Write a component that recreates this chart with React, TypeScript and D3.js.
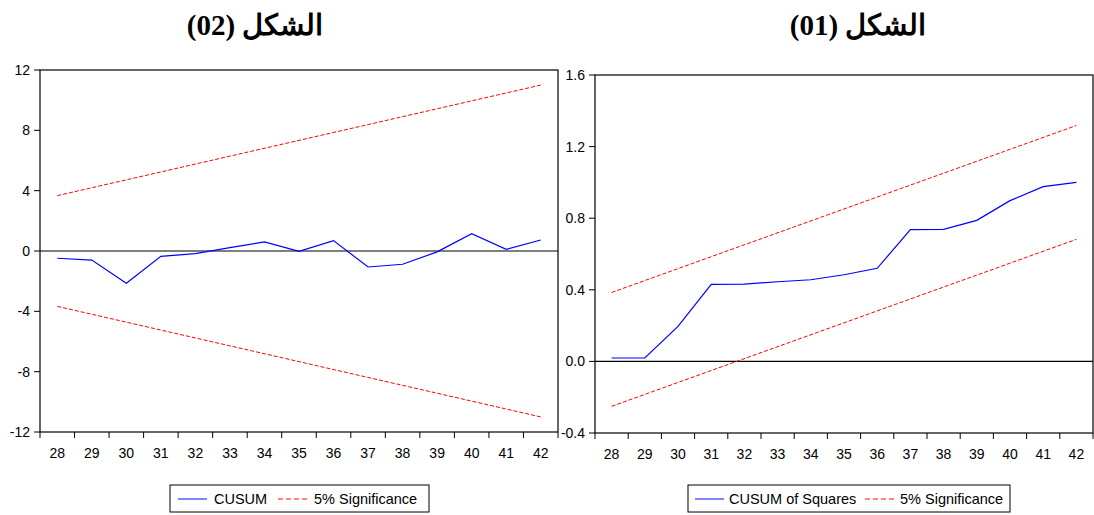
import React from "react";
import * as d3 from "d3";

// periods on the x axis (shared by both panels)
const periods = ["28", "29", "30", "31", "32", "33", "34", "35", "36", "37", "38", "39", "40", "41", "42"];

// figure 02: CUSUM
const cusum = [-0.48, -0.6, -2.14, -0.35, -0.17, 0.22, 0.6, -0.02, 0.69, -1.06, -0.88, -0.06, 1.15, 0.11, 0.73];
const cusumUpper = [3.67, 11.0]; // first and last period
const cusumLower = [-3.67, -11.0];
const cusumTicks = [-12, -8, -4, 0, 4, 8, 12];

// figure 01: CUSUM of squares
const cusumSq = [0.019, 0.019, 0.196, 0.43, 0.432, 0.445, 0.456, 0.484, 0.52, 0.736, 0.738, 0.788, 0.898, 0.976, 1.0];
const cusumSqUpper = [0.385, 1.318];
const cusumSqLower = [-0.251, 0.682];
const cusumSqTicks = [-0.4, 0.0, 0.4, 0.8, 1.2, 1.6];

const sans = "'Liberation Sans', Arial, sans-serif";
const serif = "'Liberation Serif', 'Times New Roman', serif";

// eviews prints a plain hyphen, not d3's unicode minus
const hyphen = (f: (v: number) => string) => (v: number) => f(v).replace("\u2212", "-");

type PanelProps = {
  title: string;
  titleX: number;
  x0: number;
  x1: number;
  y0: number;
  y1: number;
  ticks: number[];
  fmt: (v: number) => string;
  values: number[];
  upper: number[];
  lower: number[];
  legendName: string;
  legend: { x: number; w: number; line1: number; text1: number; dash: number; text2: number };
};

function Panel(p: PanelProps) {
  const x = d3.scaleBand<string>().domain(periods).range([p.x0, p.x1]);
  const bw = x.bandwidth();
  const cx = (k: string) => (x(k) as number) + bw / 2;
  const y = d3.scaleLinear().domain(d3.extent(p.ticks) as [number, number]).range([p.y1, p.y0]);

  const line = d3.line<number>().x((_, i) => cx(periods[i])).y((d) => y(d));
  const first = periods[0];
  const last = periods[periods.length - 1];
  const bound = (b: number[]) =>
    d3.line<[string, number]>().x((d) => cx(d[0])).y((d) => y(d[1]))([[first, b[0]], [last, b[1]]]) || "";

  const ly = 499;
  return (
    <g>
      <text
        x={p.titleX}
        y={35}
        textAnchor="middle"
        direction="rtl"
        fontFamily={serif}
        fontWeight="bold"
        fontSize={29}
      >
        {p.title}
      </text>

      <rect x={p.x0} y={p.y0} width={p.x1 - p.x0} height={p.y1 - p.y0} fill="none" stroke="#000" strokeWidth={1.2} />
      <line x1={p.x0} x2={p.x1} y1={y(0)} y2={y(0)} stroke="#000" strokeWidth={1.2} />

      {p.ticks.map((t) => (
        <g key={t}>
          <line x1={p.x0 - 6} x2={p.x0} y1={y(t)} y2={y(t)} stroke="#000" />
          <text x={p.x0 - 10} y={y(t)} dy="0.35em" textAnchor="end" fontFamily={sans} fontSize={14}>
            {p.fmt(t)}
          </text>
        </g>
      ))}

      {periods.map((k) => (
        <g key={k}>
          <line x1={x(k)} x2={x(k)} y1={p.y1} y2={p.y1 + 6} stroke="#000" />
          <text x={cx(k)} y={p.y1 + 26} textAnchor="middle" fontFamily={sans} fontSize={14}>
            {k}
          </text>
        </g>
      ))}
      <line x1={p.x1} x2={p.x1} y1={p.y1} y2={p.y1 + 6} stroke="#000" />

      <path d={bound(p.upper)} fill="none" stroke="#ff0000" strokeWidth={1} strokeDasharray="4,2" />
      <path d={bound(p.lower)} fill="none" stroke="#ff0000" strokeWidth={1} strokeDasharray="4,2" />
      <path d={line(p.values) || ""} fill="none" stroke="#0000ff" strokeWidth={1.2} />

      <rect x={p.legend.x} y={485} width={p.legend.w} height={27} fill="#fff" stroke="#000" />
      <line x1={p.legend.line1} x2={p.legend.line1 + 29} y1={ly} y2={ly} stroke="#5a5aff" strokeWidth={1.5} />
      <text x={p.legend.text1} y={504} fontFamily={sans} fontSize={14.5}>
        {p.legendName}
      </text>
      <line
        x1={p.legend.dash}
        x2={p.legend.dash + 29}
        y1={ly}
        y2={ly}
        stroke="#ff5a5a"
        strokeWidth={1.5}
        strokeDasharray="5,3"
      />
      <text x={p.legend.text2} y={504} fontFamily={sans} fontSize={14.5}>
        5% Significance
      </text>
    </g>
  );
}

export default function App() {
  return (
    <svg width={1094} height={515} style={{ position: "absolute", left: 0, top: 0, background: "#fff" }}>
      <rect width={1094} height={515} fill="#fff" />
      <Panel
        title="الشكل (02)"
        titleX={255}
        x0={40}
        x1={558}
        y0={70}
        y1={432}
        ticks={cusumTicks}
        fmt={hyphen(d3.format("d"))}
        values={cusum}
        upper={cusumUpper}
        lower={cusumLower}
        legendName="CUSUM"
        legend={{ x: 170, w: 259, line1: 178, text1: 214, dash: 278, text2: 314 }}
      />
      <Panel
        title="الشكل (01)"
        titleX={858}
        x0={595}
        x1={1093}
        y0={75}
        y1={433}
        ticks={cusumSqTicks}
        fmt={hyphen(d3.format(".1f"))}
        values={cusumSq}
        upper={cusumSqUpper}
        lower={cusumSqLower}
        legendName="CUSUM of Squares"
        legend={{ x: 688, w: 322, line1: 695, text1: 729, dash: 865, text2: 900 }}
      />
    </svg>
  );
}
